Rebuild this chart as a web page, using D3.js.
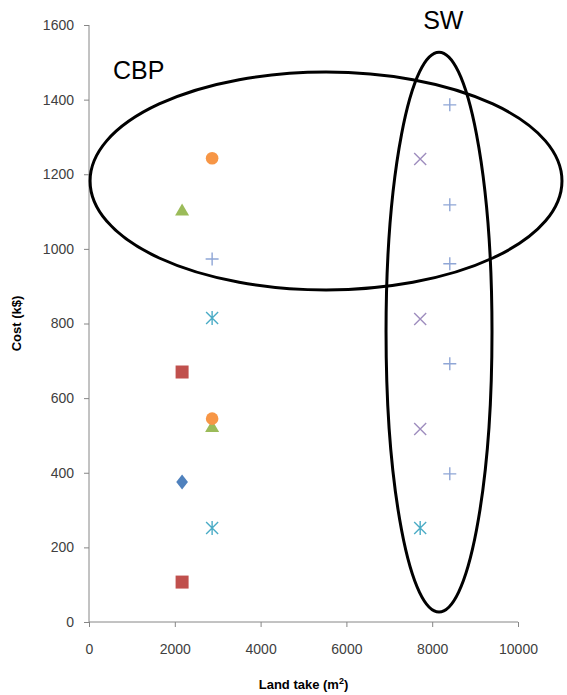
<!DOCTYPE html>
<html><head><meta charset="utf-8">
<script src="https://cdn.jsdelivr.net/npm/d3@7"></script>
<style>body{margin:0;background:#fff}svg{display:block}</style>
</head><body>
<svg id="c" width="567" height="695"></svg>
<script>
// Data (Land take m², Cost k$)
const xTicks = [0, 2000, 4000, 6000, 8000, 10000];
const yTicks = [0, 200, 400, 600, 800, 1000, 1200, 1400, 1600];
const diamondPts  = [[2170, 375]];
const squarePts   = [[2170, 670], [2170, 107]];
const trianglePts = [[2170, 1100], [2870, 520]];
const crossPts    = [[7720, 1241], [7720, 812], [7720, 517]];
const asteriskPts = [[2870, 815], [2870, 252], [7720, 252]];
const circlePts   = [[2870, 1243], [2870, 545]];
const plusPts     = [[2870, 973], [8410, 1386], [8410, 1118], [8410, 960], [8410, 692], [8410, 397]];
// Group annotations: [label, cx, cy, rx, ry] in data units
const groups = [["CBP", 5525, 1182, 5500, 292], ["SW", 8159, 777, 1235, 750]];
const groupLabels = [["CBP", 560, 1455], ["SW", 7790, 1590]];

const svg = d3.select("#c");
const x = d3.scaleLinear().domain([0, 10000]).range([89, 518]);
const y = d3.scaleLinear().domain([0, 1600]).range([622, 25]);
const axisColor = "#868686", textColor = "#404040";
const font = "'Liberation Sans', Arial, sans-serif";

// Axes
const gy = svg.append("g").attr("transform", `translate(${x(0)},0)`)
  .call(d3.axisLeft(y).tickValues(yTicks).tickFormat(d3.format("d")).tickSize(5).tickPadding(10));
const gx = svg.append("g").attr("transform", `translate(0,${y(0)})`)
  .call(d3.axisBottom(x).tickValues(xTicks).tickFormat(d3.format("d")).tickSize(5).tickPadding(17));
[gx, gy].forEach(g => {
  g.selectAll("path,line").attr("stroke", axisColor);
  g.select(".domain").attr("d", null);
  g.selectAll("text").attr("fill", textColor).style("font-family", font).style("font-size", "14px");
});
gy.append("line").attr("y1", y(0)).attr("y2", y(1600)).attr("stroke", axisColor);
gx.append("line").attr("x1", x(0)).attr("x2", x(10000)).attr("stroke", axisColor);

// Axis titles
svg.append("text").attr("transform", `translate(21,${(y(0)+y(1600))/2}) rotate(-90)`)
  .attr("text-anchor", "middle").style("font-family", font).style("font-weight", "bold")
  .style("font-size", "13px").attr("fill", "#000").text("Cost (k$)");
const xt = svg.append("text").attr("x", (x(0)+x(10000))/2).attr("y", 689)
  .attr("text-anchor", "middle").style("font-family", font).style("font-weight", "bold")
  .style("font-size", "13px").attr("fill", "#000");
xt.append("tspan").text("Land take (m");
xt.append("tspan").attr("dy", -5).style("font-size", "9px").text("2");
xt.append("tspan").attr("dy", 5).text(")");

// Markers
const mk = svg.append("g");
mk.selectAll(".dia").data(diamondPts).join("path")
  .attr("d", d3.symbol(d3.symbolDiamond, 90)).attr("fill", "#4F81BD")
  .attr("transform", d => `translate(${x(d[0])},${y(d[1])}) scale(1.15,0.85)`);
mk.selectAll(".sq").data(squarePts).join("rect")
  .attr("x", d => x(d[0]) - 6.5).attr("y", d => y(d[1]) - 6.5)
  .attr("width", 13).attr("height", 13).attr("fill", "#C0504D");
mk.selectAll(".tri").data(trianglePts).join("path")
  .attr("d", d3.symbol(d3.symbolTriangle, 85)).attr("fill", "#9BBB59")
  .attr("transform", d => `translate(${x(d[0])},${y(d[1])})`);
mk.selectAll(".cir").data(circlePts).join("circle")
  .attr("cx", d => x(d[0])).attr("cy", d => y(d[1])).attr("r", 6.3).attr("fill", "#F79646");
mk.selectAll(".crs").data(crossPts).join("path")
  .attr("d", "M-6,-6L6,6M-6,6L6,-6").attr("stroke", "#9E8DBE").attr("stroke-width", 1.4).attr("fill", "none")
  .attr("transform", d => `translate(${x(d[0])},${y(d[1])})`);
mk.selectAll(".ast").data(asteriskPts).join("path")
  .attr("d", "M-6,-6L6,6M-6,6L6,-6M0,-7L0,7").attr("stroke", "#4BACC6").attr("stroke-width", 1.4).attr("fill", "none")
  .attr("transform", d => `translate(${x(d[0])},${y(d[1])})`);
mk.selectAll(".pls").data(plusPts).join("path")
  .attr("d", "M-6.5,0L6.5,0M0,-6.5L0,6.5").attr("stroke", "#8FA6D6").attr("stroke-width", 1.4).attr("fill", "none")
  .attr("transform", d => `translate(${x(d[0])},${y(d[1])})`);

// Group ellipses
svg.append("g").selectAll("ellipse").data(groups).join("ellipse")
  .attr("cx", d => x(d[1])).attr("cy", d => y(d[2]))
  .attr("rx", d => x(d[3]) - x(0)).attr("ry", d => y(0) - y(d[4]))
  .attr("fill", "none").attr("stroke", "#000").attr("stroke-width", 3);
svg.append("g").selectAll("text").data(groupLabels).join("text")
  .attr("x", d => x(d[1])).attr("y", d => y(d[2]))
  .style("font-family", font).style("font-size", "25px").attr("fill", "#000").text(d => d[0]);
</script>
</body></html>
